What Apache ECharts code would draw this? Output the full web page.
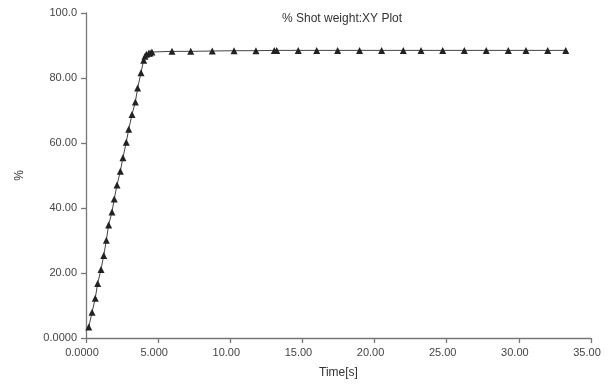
<!DOCTYPE html>
<html>
<head>
<meta charset="utf-8">
<script src="https://cdn.jsdelivr.net/npm/echarts@6/dist/echarts.min.js"></script>
<style>
html,body{margin:0;padding:0;background:#fff;}
#chart{width:609px;height:384px;}
</style>
</head>
<body>
<div id="chart"></div>
<script>
// Data
var timeValues = [0.19,0.42,0.64,0.81,1.04,1.23,1.41,1.57,1.80,1.96,2.15,2.38,2.56,2.79,2.96,3.19,3.42,3.58,3.81,4.00,4.09,4.19,4.35,4.44,4.57,5.96,7.26,8.75,10.26,11.78,13.05,13.22,14.71,15.99,17.44,18.96,20.49,21.99,23.22,24.72,26.22,27.74,29.27,30.49,32.00,33.25];
var shotWeight = [3.4,7.9,12.2,16.8,21.1,25.4,30.1,34.8,38.8,42.8,47.1,51.3,55.5,60.2,64.2,68.8,72.6,76.9,81.6,85.5,86.7,87.3,87.6,87.7,88.0,88.2,88.2,88.3,88.4,88.4,88.5,88.5,88.5,88.5,88.5,88.5,88.5,88.5,88.5,88.5,88.5,88.5,88.5,88.5,88.5,88.5];
var xTickLabels = ["0.0000","5.000","10.00","15.00","20.00","25.00","30.00","35.00"];
var yTickLabels = ["0.0000","20.00","40.00","60.00","80.00","100.0"];
var titleText = "% Shot weight:XY Plot";
var xName = "Time[s]";
var yName = "%";

var pts = timeValues.map(function(t, i){ return [t, shotWeight[i]]; });
var font = "Liberation Sans, Arial, sans-serif";

var chart = echarts.init(document.getElementById('chart'), null, {renderer:'canvas'});
chart.setOption({
  animation: false,
  backgroundColor: '#fff',
  title: {
    text: titleText,
    left: 277,
    top: 8,
    textStyle: {fontFamily: font, fontSize: 12, fontWeight: 'normal', color: '#333'}
  },
  grid: {left: 86, right: 18, top: 13, bottom: 41, containLabel: false},
  xAxis: {
    type: 'value',
    min: 0, max: 35, interval: 5,
    name: xName,
    nameLocation: 'middle',
    nameGap: 29,
    nameTextStyle: {fontFamily: font, fontSize: 12, color: '#333'},
    axisLine: {show: true, onZero: false, lineStyle: {color: '#777', width: 1.3}},
    axisTick: {show: true, length: 5, lineStyle: {color: '#777', width: 1.3}},
    splitLine: {show: false},
    axisLabel: {
      fontFamily: font, fontSize: 11, color: '#444', margin: 9,
      padding: [0, 8, 0, 0],
      formatter: function(v){ return xTickLabels[Math.round(v/5)]; }
    }
  },
  yAxis: {
    type: 'value',
    min: 0, max: 100, interval: 20,
    name: yName,
    nameLocation: 'middle',
    nameGap: 60,
    nameRotate: 90,
    nameTextStyle: {fontFamily: font, fontSize: 12, color: '#333'},
    axisLine: {show: true, onZero: false, lineStyle: {color: '#777', width: 1.3}},
    axisTick: {show: true, length: 5, lineStyle: {color: '#777', width: 1.3}},
    splitLine: {show: false},
    axisLabel: {
      fontFamily: font, fontSize: 11, color: '#444', margin: 9,
      formatter: function(v){ return yTickLabels[Math.round(v/20)]; }
    }
  },
  series: [{
    type: 'line',
    data: pts,
    symbol: 'triangle',
    symbolSize: 7,
    showAllSymbol: true,
    lineStyle: {color: '#444', width: 1},
    itemStyle: {color: '#222'}
  }]
});
</script>
</body>
</html>
